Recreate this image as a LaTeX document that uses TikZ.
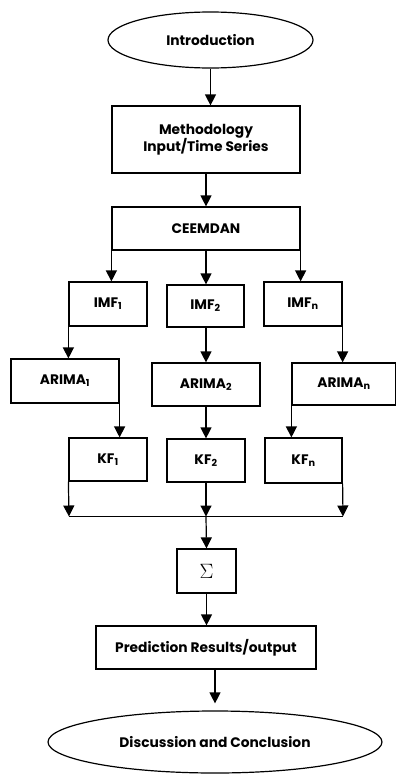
\documentclass[tikz,border=0pt]{standalone}
\usepackage{fontspec}
\setmainfont{Poppins}
\usetikzlibrary{shapes.geometric,arrows.meta}

\tikzset{
  box/.style={draw,line width=1.2pt,rectangle,inner sep=0pt,align=center,font=\bfseries\fontsize{13.8}{17}\selectfont},
  oval/.style={draw,line width=1.2pt,ellipse,inner sep=0pt,font=\bfseries\fontsize{13.8}{17}\selectfont},
  arr/.style={line width=1.2pt,-{Triangle[width=11pt,length=11pt]}}
}

\begin{document}
\begin{tikzpicture}[x=1pt,y=-1pt]
\useasboundingbox (0,0) rectangle (396,774);

\node[oval,minimum width=205pt,minimum height=56pt] (intro) at (210.5,40) {Introduction};
\node[box,minimum width=188pt,minimum height=67pt] (meth) at (206,139.5) {Methodology\\Input/Time Series};
\node[box,minimum width=188pt,minimum height=43pt] (ceem) at (206,228.5) {CEEMDAN};

\node[box,minimum width=78pt,minimum height=44pt] (imf1) at (108,304) {IMF\textsubscript{1}};
\node[box,minimum width=77pt,minimum height=42pt] (imf2) at (205.5,306) {IMF\textsubscript{2}};
\node[box,minimum width=78pt,minimum height=44pt] (imfn) at (303,304) {IMF\textsubscript{n}};

\node[box,minimum width=108pt,minimum height=44pt] (arima1) at (65,381) {ARIMA\textsubscript{1}};
\node[box,minimum width=108pt,minimum height=43pt] (arima2) at (206,384.5) {ARIMA\textsubscript{2}};
\node[box,minimum width=104pt,minimum height=42pt] (arimn) at (344,384) {\raisebox{-5pt}{ARIMA\textsubscript{n}}};

\node[box,minimum width=78pt,minimum height=43pt] (kf1) at (108,459.5) {KF\textsubscript{1}};
\node[box,minimum width=78pt,minimum height=43pt] (kf2) at (206,460.5) {KF\textsubscript{2}};
\node[box,minimum width=77pt,minimum height=45pt] (kfn) at (303.5,460.5) {KF\textsubscript{n}};

\coordinate (barl) at (69,516.5);
\coordinate (barr) at (343,516.5);
\coordinate (barm) at (206,516.5);

\node[box,minimum width=59pt,minimum height=44pt] (sum) at (206.5,571) {\fontsize{20}{22}\selectfont$\Sigma$};
\node[box,minimum width=220pt,minimum height=43pt] (pred) at (206,647.5) {Prediction Results/output};
\node[oval,minimum width=334pt,minimum height=62pt] (disc) at (215,742) {Discussion and Conclusion};

\draw[arr] (intro.south) -- (intro.south |- meth.north);
\draw[arr] (meth.south) -- (ceem.north);

\draw[arr] (ceem.south west) -- (ceem.south west |- imf1.north);
\draw[arr] (ceem.south) -- (ceem.south |- imf2.north);
\draw[arr] (ceem.south east) -- (ceem.south east |- imfn.north);

\draw[arr] (imf1.south west) -- (imf1.south west |- arima1.north);
\draw[arr] (imf2.south -| arima2.north) -- (arima2.north);
\draw[arr] (imfn.south east) -- (imfn.south east |- arimn.north);

\draw[arr] (arima1.south east) -- (arima1.south east |- kf1.north);
\draw[arr] (arima2.south) -- (arima2.south |- kf2.north);
\draw[arr] (arimn.south west) -- (arimn.south west |- kfn.north);

\draw[line width=1.2pt] (barl) -- (barr);
\draw[arr] (kf1.south west) -- (barl);
\draw[arr] (kf2.south) -- (kf2.south |- barm);
\draw[arr] (kfn.south east) -- (barr);

\draw[arr] (barm) -- (sum.north);
\draw[arr] (sum.south) -- (sum.south |- pred.north);
\draw[arr,shorten >=7pt] (pred.south -| disc.north) -- (disc.north);

\end{tikzpicture}
\end{document}
